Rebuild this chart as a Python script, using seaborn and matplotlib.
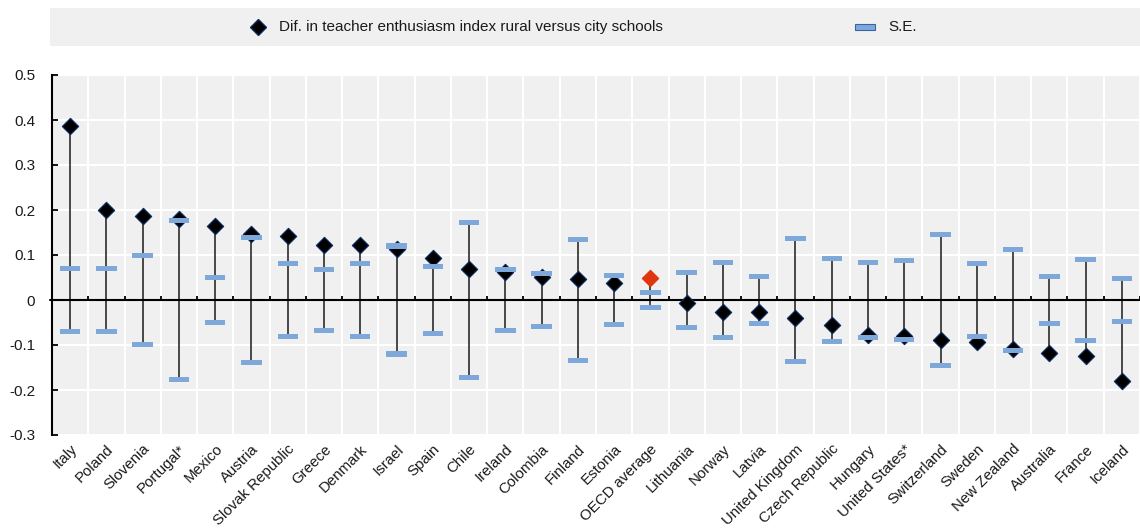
import numpy as np
import pandas as pd
import matplotlib
matplotlib.use("Agg")
import matplotlib.pyplot as plt
from matplotlib.lines import Line2D
from matplotlib.patches import Rectangle
import seaborn as sns

countries = ["Italy", "Poland", "Slovenia", "Portugal*", "Mexico", "Austria",
             "Slovak Republic", "Greece", "Denmark", "Israel", "Spain", "Chile",
             "Ireland", "Colombia", "Finland", "Estonia", "OECD average",
             "Lithuania", "Norway", "Latvia", "United Kingdom", "Czech Republic",
             "Hungary", "United States*", "Switzerland", "Sweden", "New Zealand",
             "Australia", "France", "Iceland"]
diff = [0.387, 0.201, 0.186, 0.179, 0.164, 0.146, 0.142, 0.122, 0.122, 0.113,
        0.094, 0.068, 0.062, 0.052, 0.046, 0.038, 0.050, -0.007, -0.026, -0.027,
        -0.039, -0.056, -0.078, -0.080, -0.089, -0.093, -0.108, -0.118, -0.124,
        -0.181]
se = [0.069, 0.069, 0.099, 0.176, 0.050, 0.139, 0.081, 0.067, 0.082, 0.120,
      0.074, 0.172, 0.068, 0.058, 0.135, 0.054, 0.017, 0.061, 0.083, 0.053,
      0.137, 0.093, 0.084, 0.087, 0.145, 0.082, 0.112, 0.053, 0.090, 0.047]
yticks = [-0.3, -0.2, -0.1, 0, 0.1, 0.2, 0.3, 0.4, 0.5]

diff_label = "Dif. in teacher enthusiasm index rural versus city schools"
se_label = "S.E."

sns.set_theme(style="white")
plt.rcParams["font.family"] = ["Liberation Sans", "DejaVu Sans"]

BG = "#F0F0F0"
SE_COLOR = "#7FA8DA"
OECD_COLOR = "#E0350F"
DIAMOND_EDGE = "#0B2A5A"
TEXT = "#1A1A1A"

df = pd.DataFrame({"country": countries, "diff": diff, "se": se})
df["pos"] = np.arange(len(df))
df["lo"] = np.minimum(df["diff"], -df["se"])
df["hi"] = np.maximum(df["diff"], df["se"])
se_long = pd.DataFrame({
    "pos": np.concatenate([df["pos"], df["pos"]]),
    "val": np.concatenate([df["se"], -df["se"]]),
})
is_avg = df["country"] == "OECD average"

# flat rectangle used for the standard-error marks
se_marker = [(-1, -0.25), (1, -0.25), (1, 0.25), (-1, 0.25), (-1, -0.25)]

fig = plt.figure(figsize=(11.4, 5.28), dpi=100)
ax = fig.add_axes([52 / 1140, 1 - 435 / 528, 1 - 52 / 1140, (435 - 75) / 528])
ax.set_facecolor(BG)

# range lines spanning the estimate and its +/- S.E. band
ax.vlines(df["pos"], df["lo"], df["hi"], color=TEXT, lw=1.1, zorder=2)

sns.scatterplot(data=df[~is_avg], x="pos", y="diff", marker="D", s=68,
                color="black", edgecolor=DIAMOND_EDGE, linewidth=0.9,
                legend=False, zorder=4, ax=ax)
sns.scatterplot(data=df[is_avg], x="pos", y="diff", marker="D", s=68,
                color=OECD_COLOR, edgecolor=OECD_COLOR, linewidth=0.9,
                legend=False, zorder=4, ax=ax)
sns.scatterplot(data=se_long, x="pos", y="val", marker=se_marker, s=215,
                color=SE_COLOR, edgecolor="none", linewidth=0,
                legend=False, zorder=5, ax=ax)

n = len(df)
bounds = np.arange(n + 1) - 0.5
ax.set_xlim(-0.5, n - 1 + 0.27)
ax.set_ylim(-0.3, 0.5)

# grid: white lines between categories and at each y tick
ax.set_xticks(bounds, minor=True)
ax.grid(True, which="minor", axis="x", color="white", lw=1.5, zorder=0)
ax.grid(True, which="major", axis="y", color="white", lw=1.5, zorder=0)
ax.set_axisbelow(True)

ax.axhline(0, color="black", lw=1.5, zorder=3, xmin=-0.002, clip_on=False)
ax.vlines(bounds[1:], 0, 0.009, color="black", lw=1.3, zorder=3)

ax.set_xticks(df["pos"])
ax.set_xticklabels(df["country"], rotation=45, ha="right", va="top",
                   rotation_mode="anchor", fontsize=10.8, color=TEXT)
ax.tick_params(axis="x", which="both", length=0, pad=5)

ax.set_yticks(yticks)
ax.set_yticklabels([f"{v:g}" for v in yticks], fontsize=11, color=TEXT)
ax.tick_params(axis="y", direction="in", length=4, width=1.3, color="black",
               pad=12, left=True)

for side in ["top", "right", "bottom"]:
    ax.spines[side].set_visible(False)
ax.spines["left"].set_color("black")
ax.spines["left"].set_linewidth(1.5)
ax.set_xlabel("")
ax.set_ylabel("")

# legend band across the top
fig.add_artist(Rectangle((50 / 1140, 1 - 46 / 528), 1 - 50 / 1140, 38 / 528,
                         transform=fig.transFigure, facecolor=BG,
                         edgecolor="none", zorder=0))
ly = 1 - 27 / 528
fig.add_artist(Line2D([258 / 1140], [ly], marker="D", markersize=8.5,
                      markerfacecolor="black", markeredgecolor=DIAMOND_EDGE,
                      linestyle="none", transform=fig.transFigure))
fig.text(279 / 1140, ly, diff_label, va="center", ha="left", fontsize=11,
         color=TEXT)
fig.add_artist(Rectangle((855 / 1140, ly - 2.5 / 528), 20 / 1140, 5 / 528,
                         transform=fig.transFigure, facecolor=SE_COLOR,
                         edgecolor="#3A64A8", linewidth=0.8))
fig.text(888 / 1140, ly, se_label, va="center", ha="left", fontsize=11,
         color=TEXT)

fig.savefig("out.png", dpi=100, facecolor="white")
